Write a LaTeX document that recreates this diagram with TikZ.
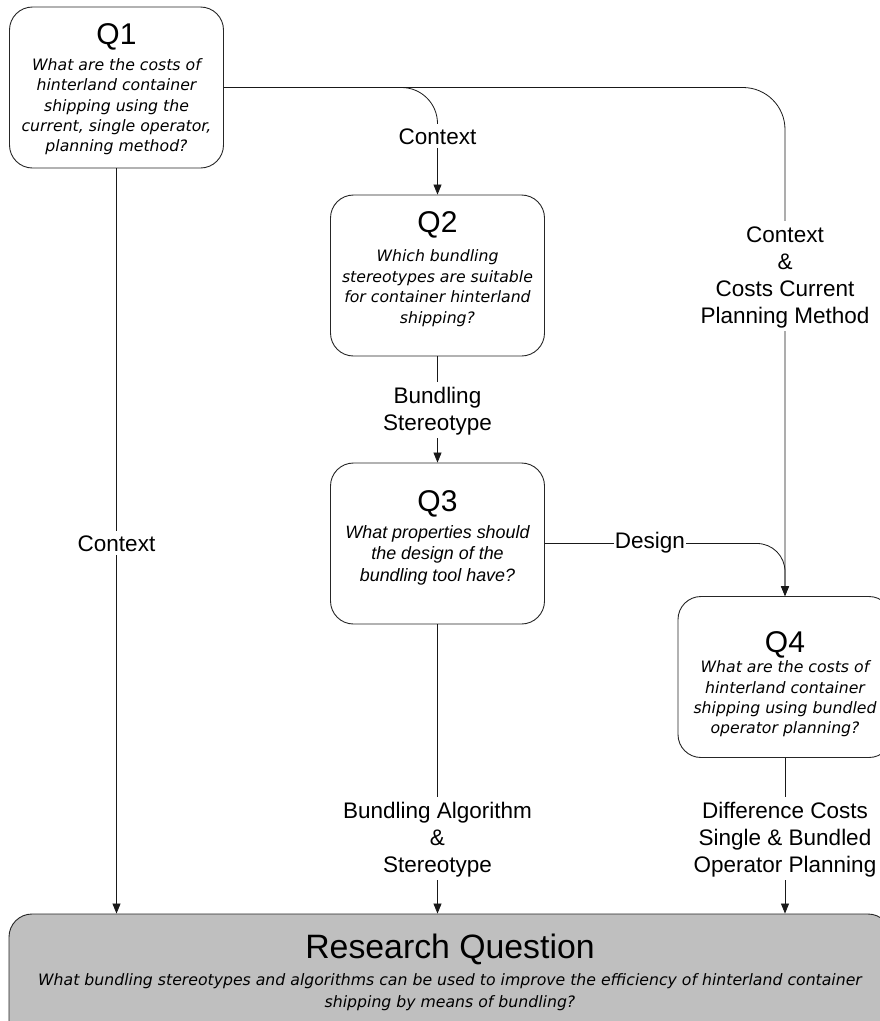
\documentclass[tikz,border=0pt]{standalone}
\usepackage{fontspec}
\setmainfont{Liberation Sans}
\newfontfamily\verd{DejaVu Sans}
\usetikzlibrary{arrows.meta}
\newcommand\strA{\rule{0pt}{14pt}}
\newcommand\strB{\rule{0pt}{16pt}}
\newcommand\strC{\rule{0pt}{18pt}}
\begin{document}
\begin{tikzpicture}[x=1pt,y=-1pt,
  qbox/.style={draw=black!85, line width=0.9pt, rounded corners=23pt, minimum width=214pt, minimum height=161pt, inner sep=0pt},
  rqbox/.style={qbox, fill=black!25, minimum width=882pt, minimum height=140pt},
  qtitle/.style={anchor=base, inner sep=0pt, font=\fontsize{30}{30}\selectfont},
  rqtitle/.style={anchor=base, inner sep=0pt, font=\fontsize{33.8}{34}\selectfont},
  qtext/.style={anchor=north, yshift=14pt, inner sep=0pt, align=center, font=\verd\itshape\fontsize{15.7}{20.4}\selectfont},
  rqtext/.style={qtext, font=\verd\itshape\fontsize{15.7}{22}\selectfont},
  qtextb/.style={anchor=north, yshift=16pt, inner sep=0pt, align=center, font=\itshape\fontsize{17.9}{21.7}\selectfont},
  lab/.style={anchor=north, yshift=21pt, fill=white, inner sep=3pt, align=center, font=\fontsize{22.5}{27}\selectfont},
  labone/.style={anchor=base, fill=white, inner sep=4pt, font=\fontsize{22.5}{27}\selectfont},
  conn/.style={draw=black!90, line width=0.8pt, -{Triangle[length=10pt,width=8pt]}},
]
\useasboundingbox (0,0) rectangle (880,1021);
\clip (0,0) rectangle (880,1021);
\fill[white] (0,0) rectangle (880,1021);

% boxes
\node[qbox] (q1) at (116.5,87.5) {};
\node[qbox] (q2) at (437.5,275.5) {};
\node[qbox] (q3) at (437.5,543.5) {};
\node[qbox] (q4) at (785,677) {};
\node[rqbox] (rq) at (450,984) {};

% connectors
\draw[conn, rounded corners=36pt] (q1.east) -| (q2.north);
\draw[conn, rounded corners=42pt] (q1.east) -| (q4.north);
\draw[conn, rounded corners=28pt] (q3.east) -| (q4.north);
\draw[conn] (q1.south) -- (q1.south |- rq.north);
\draw[conn] (q2.south) -- (q3.north);
\draw[conn] (q3.south) -- (q3.south |- rq.north);
\draw[conn] (q4.south) -- (q4.south |- rq.north);

% connector labels
\node[labone] (lc1) at (437.5,144) {Context};
\node[labone] (lc2) at (116.5,551) {Context};
\node[lab] (lc3) at (785,242) {\strC Context\\\&\\Costs Current\\Planning Method};
\node[lab] (lbs) at (437.5,403) {\strC Bundling\\Stereotype};
\node[labone, inner sep=1pt] (ld) at (650,548) {Design};
\node[lab] (lba) at (437.5,818) {\strC Bundling Algorithm\\\&\\Stereotype};
\node[lab] (ldc) at (785,818) {\strC Difference Costs\\Single \& Bundled\\Operator Planning};

% box texts
\node[qtitle] (t1) at (116.5,44.5) {Q1};
\node[qtext] (x1) at (116.5,70) {\strA What are the costs of\\hinterland container\\shipping using the\\current, single operator,\\planning method?};
\node[qtitle] (t2) at (437.5,232.5) {Q2};
\node[qtext] (x2) at (437.5,261.7) {\strA Which bundling\\stereotypes are suitable\\for container hinterland\\shipping?};
\node[qtitle] (t3) at (437.5,511) {Q3};
\node[qtextb] (x3) at (437.5,538) {\strB What properties should\\the design of the\\bundling tool have?};
\node[qtitle] (t4) at (785,652) {Q4};
\node[qtext] (x4) at (785,672.5) {\strA What are the costs of\\hinterland container\\shipping using bundled\\operator planning?};
\node[rqtitle] (t5) at (450,958) {Research Question};
\node[rqtext] (x5) at (450,985) {\strA What bundling stereotypes and algorithms can be used to improve the efficiency of hinterland container\\shipping by means of bundling?};
\end{tikzpicture}
\end{document}
